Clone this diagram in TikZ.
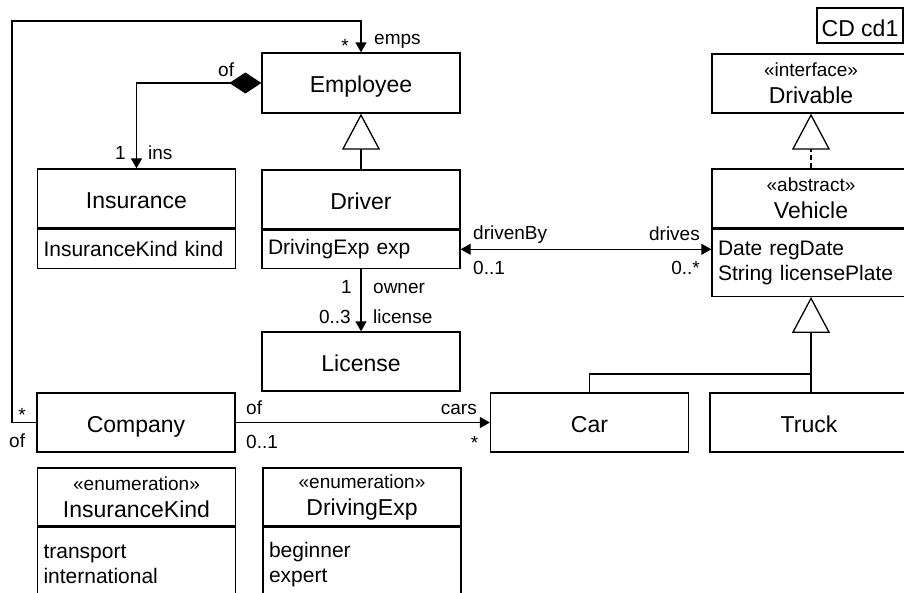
\documentclass[tikz,border=0pt]{standalone}
\usepackage{fontspec}
\setmainfont{Liberation Sans}
\usetikzlibrary{arrows.meta,calc}
\newcommand\clsfont{\fontsize{23}{27}\selectfont}
\newcommand\attrfont{\fontsize{21}{25}\selectfont}
\newcommand\lblfont{\fontsize{19}{22}\selectfont}
\tikzset{%
  cls/.style={draw,line width=1.3pt,minimum width=198pt,minimum height=59pt,
    inner sep=0pt,align=center,font=\clsfont},
  oneline/.style={text height=19pt,text depth=0pt},
  attrs/.style={draw,line width=1.3pt,minimum width=198pt,text width=186pt,
    inner xsep=6pt,inner ysep=0pt,align=left,anchor=north,font=\attrfont},
  assoc/.style={line width=1.3pt,-{Triangle[length=10pt,width=11pt]}},
  gen/.style={line width=2.4pt,
    -{Triangle[open,length=36pt,width=38pt,line width=1.3pt,fill=white]}},
  real/.style={line width=1.3pt,dash pattern=on 5pt off 3pt,
    -{Triangle[open,length=36pt,width=38pt,fill=white]}},
  lbl/.style={font=\lblfont,inner sep=0pt},
}
\begin{document}
\begin{tikzpicture}[x=1pt,y=-1pt]
	\useasboundingbox (0,0) rectangle (904,592);
	
	%% classes
	\node[cls,oneline,minimum height=60pt] (employee) at (361,83) {Employee};
	\node[cls,oneline] (insurance) at (136.5,198.5) {Insurance};
	\node[attrs,minimum height=39pt] (insuranceattr) at (insurance.south) {InsuranceKind kind};
	\node[cls,oneline] (driver) at (361,199.5) {Driver};
	\node[attrs,minimum height=38pt] (driverattr) at (driver.south) {DrivingExp exp};
	\node[cls,oneline] (license) at (361,361.5) {License};
	\node[cls,oneline] (company) at (136,422.5) {Company};
	\node[cls,oneline] (car) at (589.5,422.5) {Car};
	\node[cls,oneline] (truck) at (809,422.5) {Truck};
	\node[cls] (drivable) at (811,83.5) {{\lblfont «interface»}\\Drivable};
	\node[cls] (vehicle) at (811,198.5) {{\lblfont «abstract»}\\Vehicle};
	\node[attrs,minimum height=67pt] (vehicleattr) at (vehicle.south) {Date regDate\\String licensePlate};
	
	%% enumerations
	\node[cls,minimum height=58pt] (inskind) at (136.5,497) {{\lblfont «enumeration»}\\InsuranceKind};
	\node[attrs,minimum height=75pt] (inskindvals) at (inskind.south) {transport\\international};
	\node[cls,minimum height=58pt] (drivexp) at (362,497) {{\lblfont «enumeration»}\\DrivingExp};
	\node[attrs,minimum height=75pt] (drivexpvals) at (drivexp.south) {beginner\\expert};
	
	\node[draw,line width=1.3pt,minimum width=86pt,minimum height=35pt,
	  inner sep=0pt,text height=22pt,text depth=0pt,font=\clsfont] (cd) at (860,25.5) {CD cd1};
	
	%% associations
	\coordinate (corner) at (12,21);
	\draw[assoc] (company.west) -| (corner) -| (employee.north);
	\draw[line width=1.3pt,{Diamond[length=32pt,width=21pt]}-{Triangle[length=10pt,width=11pt]}]
	  (employee.west) -| (insurance.north);
	\draw[assoc] (driverattr.south) -- (license.north);
	\draw[line width=1.3pt,{Triangle[length=10pt,width=11pt]}-{Triangle[length=10pt,width=11pt]}]
	  (driverattr.east) -- (driverattr.east -| vehicleattr.west);
	\draw[assoc] (company.east) -- (car.west);
	
	%% inheritance
	\draw[gen] (driver.north) -- (employee.south);
	\draw[real] (vehicle.north) -- (drivable.south);
	\draw[gen] (truck.north -| vehicleattr.south) -- (vehicleattr.south);
	\coordinate (branch) at (811,374);
	\draw[line width=1.3pt] (car.north) |- (branch);
	
	%% role names and multiplicities
	\node[lbl,anchor=base] (empsm) at (345,52) {*};
	\node[lbl,anchor=base west] (emps) at (374,44) {emps};
	\node[lbl,anchor=base west] (insof) at (218,76) {of};
	\node[lbl,anchor=base east] (insm) at (126,159) {1};
	\node[lbl,anchor=base west] (ins) at (148,159) {ins};
	\node[lbl,anchor=base east] (ownerm) at (352,293) {1};
	\node[lbl,anchor=base west] (owner) at (373,293) {owner};
	\node[lbl,anchor=base east] (licensem) at (351,323) {0..3};
	\node[lbl,anchor=base west] (licenserole) at (373,323) {license};
	\node[lbl,anchor=base west] (drivenby) at (473,239) {drivenBy};
	\node[lbl,anchor=base west] (drivenbym) at (473,274) {0..1};
	\node[lbl,anchor=base east] (drives) at (700,240) {drives};
	\node[lbl,anchor=base east] (drivesm) at (700,274) {0..*};
	\node[lbl,anchor=base] (compm) at (22,421.5) {*};
	\node[lbl,anchor=base west] (compof) at (9,447) {of};
	\node[lbl,anchor=base west] (carof) at (246,414) {of};
	\node[lbl,anchor=base west] (carofm) at (246,448) {0..1};
	\node[lbl,anchor=base east] (cars) at (477,414) {cars};
	\node[lbl,anchor=base] (carsm) at (474.5,449) {*};
	
\end{tikzpicture}
\end{document}
